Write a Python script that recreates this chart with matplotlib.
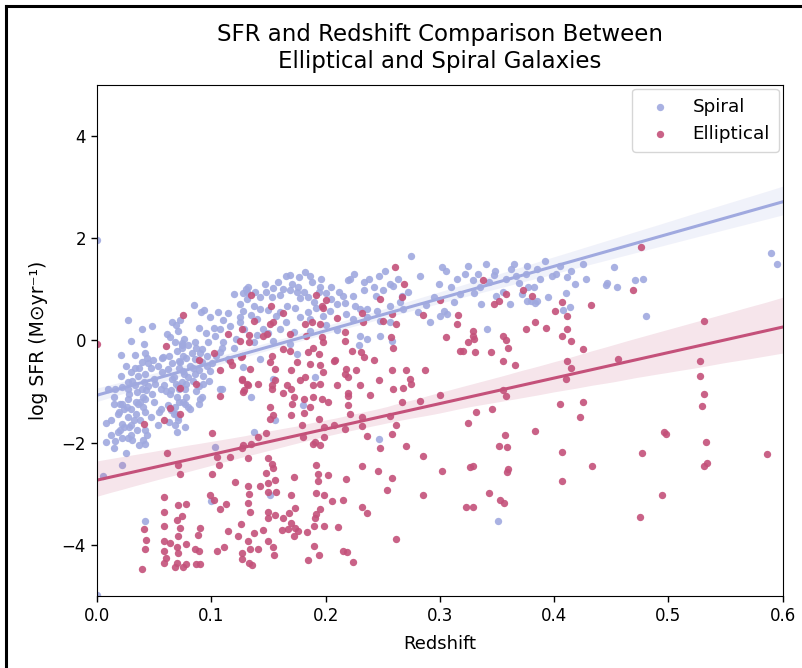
import numpy as np
import matplotlib
matplotlib.use("Agg")
import matplotlib.pyplot as plt
from matplotlib.lines import Line2D
import seaborn as sns

# ── Data ──────────────────────────────────────────────────────────────────────
spiral_z = [
    0.000, 0.000, 0.085, 0.091, 0.094, 0.099, 0.106, 0.027, 0.039, 0.048,
    0.066, 0.073, 0.089, 0.102, 0.030, 0.041, 0.021, 0.033, 0.042, 0.049,
    0.058, 0.061, 0.064, 0.068, 0.071, 0.076, 0.080, 0.086, 0.092, 0.097,
    0.103, 0.108, 0.109, 0.039, 0.030, 0.036, 0.042, 0.027, 0.033, 0.022,
    0.016, 0.010, 0.041, 0.043, 0.035, 0.057, 0.062, 0.067, 0.059, 0.065,
    0.070, 0.078, 0.074, 0.080, 0.089, 0.092, 0.086, 0.073, 0.108, 0.027,
    0.022, 0.030, 0.019, 0.027, 0.038, 0.042, 0.022, 0.024, 0.008, 0.042,
    0.062, 0.065, 0.070, 0.089, 0.022, 0.027, 0.016, 0.008, 0.042, 0.103,
    0.022, 0.005, 0.042, 0.137, 0.151, 0.100, 0.156, 0.180, 0.247, 0.351,
    0.169, 0.177, 0.182, 0.154, 0.169, 0.220, 0.131, 0.143, 0.153, 0.160,
    0.178, 0.185, 0.200, 0.210, 0.125, 0.137, 0.128, 0.143, 0.166, 0.173,
    0.192, 0.204, 0.115, 0.125, 0.140, 0.157, 0.178, 0.186, 0.198, 0.218,
    0.116, 0.129, 0.145, 0.160, 0.172, 0.186, 0.110, 0.122, 0.137, 0.154,
    0.169, 0.108, 0.115, 0.128, 0.143, 0.154, 0.175, 0.191, 0.109, 0.135,
    0.131, 0.275, 0.302, 0.221, 0.234, 0.247, 0.256, 0.259, 0.234, 0.250,
    0.215, 0.224, 0.244, 0.267, 0.299, 0.329, 0.347, 0.367, 0.369, 0.377,
    0.382, 0.380, 0.385, 0.376, 0.330, 0.349, 0.336, 0.217, 0.226, 0.230,
    0.236, 0.245, 0.256, 0.268, 0.281, 0.224, 0.236, 0.248, 0.256, 0.300,
    0.306, 0.291, 0.341, 0.230, 0.236, 0.248, 0.258, 0.229, 0.376, 0.411,
    0.410, 0.408, 0.383, 0.361, 0.304, 0.452, 0.428, 0.446, 0.471, 0.478,
    0.590, 0.595, 0.445, 0.455, 0.414, 0.480, 0.070, 0.072, 0.075, 0.068,
    0.071, 0.074, 0.069, 0.076, 0.072, 0.077, 0.120, 0.130, 0.150, 0.160,
    0.165, 0.175, 0.190, 0.195, 0.205, 0.140, 0.120, 0.150, 0.110, 0.125,
    0.135, 0.185, 0.200, 0.210,
    # dense low-redshift clump
    0.063, 0.066, 0.069, 0.072, 0.075, 0.078, 0.081, 0.084, 0.087, 0.090,
    0.093, 0.096, 0.099, 0.064, 0.067, 0.071, 0.074, 0.077, 0.080, 0.083,
    0.086, 0.089, 0.092, 0.095, 0.098, 0.101, 0.104, 0.025, 0.028, 0.031,
    0.034, 0.037, 0.040, 0.044, 0.047, 0.020, 0.026, 0.032, 0.038, 0.045,
    0.050, 0.053, 0.056, 0.012, 0.015,
    0.015, 0.018, 0.021, 0.024, 0.027, 0.030, 0.033, 0.036, 0.039, 0.042,
    0.045, 0.048, 0.051, 0.054, 0.057, 0.060, 0.063, 0.066, 0.069, 0.072,
    0.075, 0.078, 0.081, 0.084, 0.087, 0.090, 0.093, 0.096, 0.030, 0.035,
    0.040, 0.068, 0.071, 0.074, 0.077,
    0.012, 0.015, 0.018, 0.020, 0.025, 0.028, 0.031, 0.034, 0.037, 0.040,
    0.044, 0.047, 0.050, 0.053, 0.056,
    # upper band, mid redshift
    0.205, 0.212, 0.225, 0.238, 0.242, 0.252, 0.263, 0.272, 0.283, 0.295,
    0.310, 0.318, 0.322, 0.335, 0.343, 0.355, 0.362, 0.372, 0.388, 0.395,
    0.402, 0.418, 0.265, 0.288, 0.312,
    0.132, 0.138, 0.147, 0.158, 0.163, 0.171, 0.176, 0.181, 0.188, 0.194,
    0.148, 0.128, 0.196, 0.165, 0.186,
    0.305, 0.315, 0.325, 0.333, 0.340, 0.348, 0.358, 0.365, 0.375, 0.385,
    0.392, 0.398, 0.405, 0.415, 0.425,
]
spiral_sfr = [
    1.96, -4.98, 0.69, 0.56, 0.60, 0.45, 0.56, 0.39, 0.22, 0.29,
    0.36, 0.39, 0.25, 0.25, -0.02, -0.07, -0.28, -0.29, -0.25, -0.39,
    -0.32, 0.12, 0.06, -0.04, 0.19, 0.03, -0.10, -0.04, -0.17, -0.04,
    0.09, 0.22, -0.14, -0.43, -0.62, -0.69, -0.66, -0.82, -0.88, -0.91,
    -0.95, -0.95, -0.82, -0.98, -1.01, -0.62, -0.56, -0.72, -0.88, -0.98,
    -1.11, -1.11, -0.82, -0.72, -0.59, -0.43, -0.36, -0.43, -0.95, -1.14,
    -1.24, -1.34, -1.40, -1.50, -1.56, -1.40, -1.63, -1.69, -1.61, -1.76,
    -1.27, -1.37, -1.79, -1.24, -1.91, -1.91, -1.97, -1.98, -2.02, -2.08,
    -2.44, -2.65, -3.54, -1.80, -3.02, -3.14, -1.56, -1.27, -1.93, -3.53,
    1.28, 1.23, 1.34, 1.02, 0.99, 1.19, 0.80, 0.84, 0.84, 0.88,
    0.82, 0.84, 0.93, 0.71, 0.71, 0.68, 0.58, 0.61, 0.68, 0.64,
    0.64, 0.58, 0.54, 0.45, 0.41, 0.48, 0.45, 0.41, 0.48, 0.51,
    0.29, 0.22, 0.22, 0.22, 0.16, 0.19, -0.04, 0.03, -0.04, -0.01,
    -0.07, -0.23, -0.36, -0.53, -0.36, -0.75, -0.27, -0.72, -0.95, -1.11,
    0.95, 1.66, 1.44, 1.21, 1.14, 1.26, 1.10, 1.06, 0.98, 0.99,
    0.87, 0.87, 0.86, 0.86, 1.10, 1.19, 1.27, 1.26, 1.13, 1.05,
    1.05, 0.77, 0.77, 0.77, 0.93, 0.86, 0.72, 0.74, 0.68, 0.61,
    0.61, 0.58, 0.68, 0.61, 0.56, 0.41, 0.45, 0.38, 0.35, 0.48,
    0.51, 0.35, 0.23, 0.09, 0.03, 0.09, -0.01, -0.10, 1.45, 1.23,
    0.92, 0.60, 0.74, 0.71, 0.58, 1.44, 1.21, 1.13, 1.18, 1.21,
    1.71, 1.50, 1.09, 1.04, 0.66, 0.47, -0.20, -0.55, -0.30, -1.30,
    -1.50, -0.10, 0.30, -0.65, -0.95, -1.25, 0.90, 1.00, 0.60, 0.55,
    0.35, 0.95, 0.75, 1.05, 0.80, 0.10, -0.15, 0.15, 0.40, 0.35,
    0.50, 0.55, 0.30, 0.20,
    # dense low-redshift clump
    -0.30, -0.45, -0.85, -1.20, -0.60, -0.35, -0.50, -0.80, -1.00, -0.25,
    -0.70, -0.30, -0.60, -1.05, -1.45, -0.90, -0.15, -0.95, -1.30, -0.25,
    -0.65, -0.90, -1.10, 0.15, -0.80, -0.45, -0.30, -0.50, -1.05, -0.80,
    -1.20, -0.55, -1.10, -0.35, -0.55, -1.75, -1.30, -1.55, -1.20, -0.90,
    -0.75, -0.50, -0.95, -1.85, -1.25,
    -1.10, -1.45, -0.70, -1.35, -0.95, -1.65, -0.55, -1.25, -0.95, -1.15,
    -0.45, -1.05, -0.85, -1.40, -0.35, -1.00, -1.60, -0.75, -1.45, -0.40,
    -1.20, -0.85, -1.35, -0.55, -0.15, -1.15, -0.85, -0.50, -1.85, -1.75,
    -1.95, -1.65, -1.55, -0.05, -1.70,
    -1.55, -2.10, -1.80, -1.25, -2.20, -1.70, -1.95, -1.45, -2.05, -1.30,
    -1.85, -1.50, -1.20, -1.65, -1.35,
    # upper band, mid redshift
    1.05, 0.95, 1.30, 1.20, 1.05, 1.35, 1.20, 0.95, 1.25, 0.85,
    1.05, 0.90, 1.30, 1.05, 1.15, 0.95, 1.40, 0.90, 1.20, 0.85,
    1.30, 1.10, 0.75, 0.70, 0.75,
    1.05, 0.95, 1.10, 1.15, 1.00, 1.10, 1.05, 0.95, 1.15, 0.95,
    0.95, 0.92, 1.20, 1.25, 1.25,
    1.35, 1.20, 1.45, 1.30, 1.50, 1.35, 1.20, 1.50, 1.30, 1.40,
    1.55, 1.25, 1.45, 1.35, 1.50,
]

elliptical_z = [
    0.061, 0.071, 0.073, 0.105, 0.107, 0.116, 0.127, 0.132, 0.135, 0.101,
    0.121, 0.132, 0.143, 0.150, 0.153, 0.154, 0.148, 0.156, 0.150, 0.157,
    0.150, 0.172, 0.170, 0.189, 0.192, 0.193, 0.202, 0.193, 0.192, 0.199,
    0.206, 0.215, 0.133, 0.132, 0.134, 0.150, 0.156, 0.150, 0.168, 0.173,
    0.163, 0.170, 0.167, 0.173, 0.176, 0.172, 0.184, 0.190, 0.191, 0.192,
    0.195, 0.199, 0.211, 0.190, 0.185, 0.194, 0.059, 0.059, 0.071, 0.078,
    0.074, 0.070, 0.073, 0.059, 0.041, 0.043, 0.042, 0.039, 0.059, 0.064,
    0.059, 0.060, 0.059, 0.071, 0.070, 0.071, 0.070, 0.068, 0.075, 0.078,
    0.078, 0.086, 0.089, 0.090, 0.088, 0.087, 0.090, 0.099, 0.102, 0.108,
    0.113, 0.115, 0.105, 0.111, 0.123, 0.126, 0.127, 0.127, 0.132, 0.134,
    0.133, 0.137, 0.141, 0.145, 0.150, 0.154, 0.155, 0.162, 0.215, 0.136,
    0.220, 0.221, 0.232, 0.217, 0.232, 0.256, 0.262, 0.258, 0.236, 0.248,
    0.270, 0.285, 0.232, 0.246, 0.258, 0.218, 0.254, 0.285, 0.302, 0.232,
    0.236, 0.219, 0.224, 0.262, 0.325, 0.332, 0.346, 0.357, 0.352, 0.359,
    0.326, 0.329, 0.359, 0.360, 0.343, 0.353, 0.356, 0.323, 0.329, 0.383,
    0.405, 0.407, 0.407, 0.423, 0.469, 0.407, 0.432, 0.411, 0.411, 0.407,
    0.415, 0.425, 0.411, 0.415, 0.410, 0.456, 0.531, 0.528, 0.528, 0.531,
    0.529, 0.425, 0.496, 0.498, 0.533, 0.433, 0.477, 0.531, 0.534, 0.586,
    0.494, 0.475, 0.476, 0.261, 0.269, 0.338, 0.248, 0.267, 0.300, 0.232,
    0.258, 0.285, 0.316, 0.347, 0.352, 0.358, 0.373, 0.381, 0.250, 0.262,
    0.233, 0.217, 0.217, 0.315, 0.329, 0.329, 0.330, 0.325, 0.305, 0.355,
    0.358, 0.360, 0.355, 0.366, 0.375, 0.383, 0.257, 0.259, 0.231, 0.223,
    0.234, 0.242, 0.318, 0.320, 0.331, 0.345, 0.227, 0.258, 0.270, 0.287,
    0.217, 0.220, 0.247, 0.274, 0.275, 0.268, 0.230, 0.239, 0.220, 0.259,
    0.267, 0.283, 0.300, 0.355, 0.358, 0.401, 0.393, 0.135, 0.152, 0.163,
    0.137, 0.151, 0.127, 0.125, 0.115, 0.133, 0.133, 0.145, 0.149, 0.169,
    0.182, 0.188, 0.195, 0.192, 0.200, 0.197, 0.210, 0.183, 0.197, 0.189,
    0.198, 0.116, 0.126, 0.153, 0.163, 0.169, 0.185, 0.194, 0.207, 0.151,
    0.156, 0.170, 0.175, 0.186, 0.195, 0.198, 0.218, 0.108, 0.127, 0.131,
    0.141, 0.153, 0.156, 0.166, 0.178, 0.182, 0.189, 0.195, 0.210, 0.108,
    0.129, 0.153, 0.163, 0.170, 0.172, 0.181, 0.189, 0.197, 0.151, 0.154,
    0.151, 0.170, 0.181, 0.186, 0.194, 0.202, 0.207, 0.199, 0.179, 0.191,
    0.195, 0.148, 0.141, 0.128, 0.180, 0.220, 0.075, 0.000, 0.060, 0.102,
    0.089, 0.087, 0.073, 0.064, 0.073, 0.059, 0.041, 0.101, 0.198, 0.154,
    0.208, 0.118, 0.127, 0.134, 0.127, 0.128, 0.132, 0.171, 0.199,
]
elliptical_sfr = [
    -2.21, -2.43, -2.62, -2.28, -2.44, -2.28, -2.11, -2.31, -2.02, -2.61,
    -2.78, -2.86, -2.85, -2.31, -2.41, -2.50, -2.60, -2.73, -2.80, -2.96,
    -2.96, -2.68, -3.02, -2.02, -2.44, -2.61, -2.63, -2.76, -2.99, -3.02,
    -3.15, -3.12, -3.01, -3.18, -3.35, -3.35, -3.41, -3.48, -3.38, -3.28,
    -3.48, -3.57, -3.70, -3.68, -3.74, -3.83, -3.75, -3.64, -3.48, -3.40,
    -3.31, -3.64, -3.66, -4.03, -4.29, -4.21, -3.07, -3.35, -3.23, -3.20,
    -3.44, -3.51, -3.68, -3.64, -3.70, -3.91, -4.09, -4.47, -3.93, -3.96,
    -4.12, -4.25, -4.35, -3.83, -4.05, -4.16, -4.35, -4.44, -4.44, -4.37,
    -3.99, -4.09, -4.12, -3.68, -3.80, -4.38, -4.38, -3.02, -3.12, -3.31,
    -3.20, -3.74, -4.12, -4.05, -3.83, -3.59, -4.16, -4.27, -3.93, -4.09,
    -4.35, -3.77, -4.09, -3.72, -3.93, -4.05, -4.21, -3.72, -4.12, -4.40,
    -1.26, -1.45, -1.50, -1.73, -1.67, -1.48, -1.65, -1.83, -1.88, -2.10,
    -2.07, -2.26, -2.45, -2.55, -2.70, -2.72, -2.93, -3.02, -2.55, -3.27,
    -3.37, -4.15, -4.34, -3.88, -1.61, -1.40, -1.34, -1.85, -2.07, -2.09,
    -2.48, -2.45, -2.58, -2.52, -2.99, -3.12, -3.18, -3.26, -3.26, -1.77,
    -1.24, -2.18, -2.75, -1.50, 0.98, 0.75, 0.69, 0.47, 0.22, 0.09,
    -0.02, -0.16, -0.40, -0.54, -0.75, -0.36, 0.38, -0.40, -0.70, -1.05,
    -1.29, -1.21, -1.80, -1.83, -1.99, -2.45, -2.21, -2.45, -2.40, -2.23,
    -3.02, -3.45, 1.82, 1.44, 1.11, 1.19, 0.80, 0.84, 0.79, 0.53,
    0.51, 0.49, 0.49, 0.71, 0.77, 0.90, 0.99, 0.87, 0.38, 0.32,
    0.35, 0.16, -0.01, 0.32, 0.19, 0.09, 0.03, -0.04, 0.06, 0.09,
    0.01, -0.14, -0.40, -0.49, 0.23, 0.35, 0.06, -0.14, -0.23, -0.20,
    -0.33, -0.38, -0.20, -0.20, -0.23, -0.23, -0.59, -0.59, -0.59, -0.58,
    -0.66, -0.72, -0.78, -0.75, -0.85, -0.93, -0.88, -1.06, -1.08, -0.95,
    -1.21, -1.19, -1.06, -0.98, -1.08, 0.58, 0.25, 0.88, 0.68, 0.53,
    0.38, 0.32, 0.23, -0.01, 0.12, 0.10, -0.04, 0.08, 0.12, 0.12,
    0.32, 0.35, 0.32, 0.88, 0.79, 0.68, 0.43, 0.08, 0.06, -0.14,
    -0.04, -0.40, -0.33, -0.30, -0.17, -0.20, -0.23, -0.27, -0.40, -0.43,
    -0.56, -0.59, -0.43, -0.46, -0.49, -0.62, -0.56, -0.59, -0.78, -0.85,
    -0.85, -0.88, -0.78, -0.88, -0.78, -0.72, -0.88, -0.85, -0.88, -1.08,
    -0.98, -0.95, -1.04, -0.95, -1.11, -1.14, -1.11, -1.14, -1.30, -1.47,
    -1.53, -1.47, -1.43, -1.30, -1.53, -1.21, -1.66, -1.69, -1.66, -1.98,
    -2.05, -1.82, -1.89, -2.05, -1.89, -1.04, 0.50, -0.07, -0.12, -0.25,
    -0.38, -0.85, -0.93, -1.32, -1.45, -1.55, -1.64, -1.82, 0.64, 0.35,
    -0.38, -0.49, -0.30, -0.56, -0.75, -1.01, -0.87, -1.24, -1.89,
]

spiral_color = '#a0a9df'
elliptical_color = '#c4517a'

# ── Plot ─────────────────────────────────────────────────────────────────────
fig = plt.figure(figsize=(8.02, 6.68), dpi=100)
ax = fig.add_axes([0.121, 0.108, 0.855, 0.765])

sns.regplot(x=np.array(spiral_z), y=np.array(spiral_sfr), ax=ax,
            color=spiral_color, label='Spiral', seed=1, truncate=False,
            scatter_kws={'s': 28, 'alpha': 0.9, 'linewidths': 0},
            line_kws={'lw': 2.2})
sns.regplot(x=np.array(elliptical_z), y=np.array(elliptical_sfr), ax=ax,
            color=elliptical_color, label='Elliptical', seed=1, truncate=False,
            scatter_kws={'s': 28, 'alpha': 0.9, 'linewidths': 0},
            line_kws={'lw': 2.2})

ax.set_xlim(0, 0.6)
ax.set_ylim(-5, 5)
ax.set_yticks([-4, -2, 0, 2, 4])
ax.tick_params(labelsize=12, length=4.5, width=1)
ax.set_xlabel('Redshift', fontsize=13, labelpad=7)
ax.set_ylabel('log SFR (M⊙yr⁻¹)', fontsize=13.5, labelpad=10)
ax.set_title('SFR and Redshift Comparison Between\nElliptical and Spiral Galaxies',
             fontsize=16.5, pad=12, linespacing=1.25)
ax.legend(loc='upper right', fontsize=13.2, borderpad=0.5, borderaxespad=0.2)

# black frame drawn round the screenshot (left and top edges)
fig.add_artist(Line2D([6 / 802, 6 / 802], [0, 1 - 6 / 668], color='black',
                      lw=2.2, transform=fig.transFigure))
fig.add_artist(Line2D([6 / 802, 1], [1 - 6 / 668, 1 - 6 / 668], color='black',
                      lw=2.2, transform=fig.transFigure))

fig.savefig('out.png', dpi=100)
